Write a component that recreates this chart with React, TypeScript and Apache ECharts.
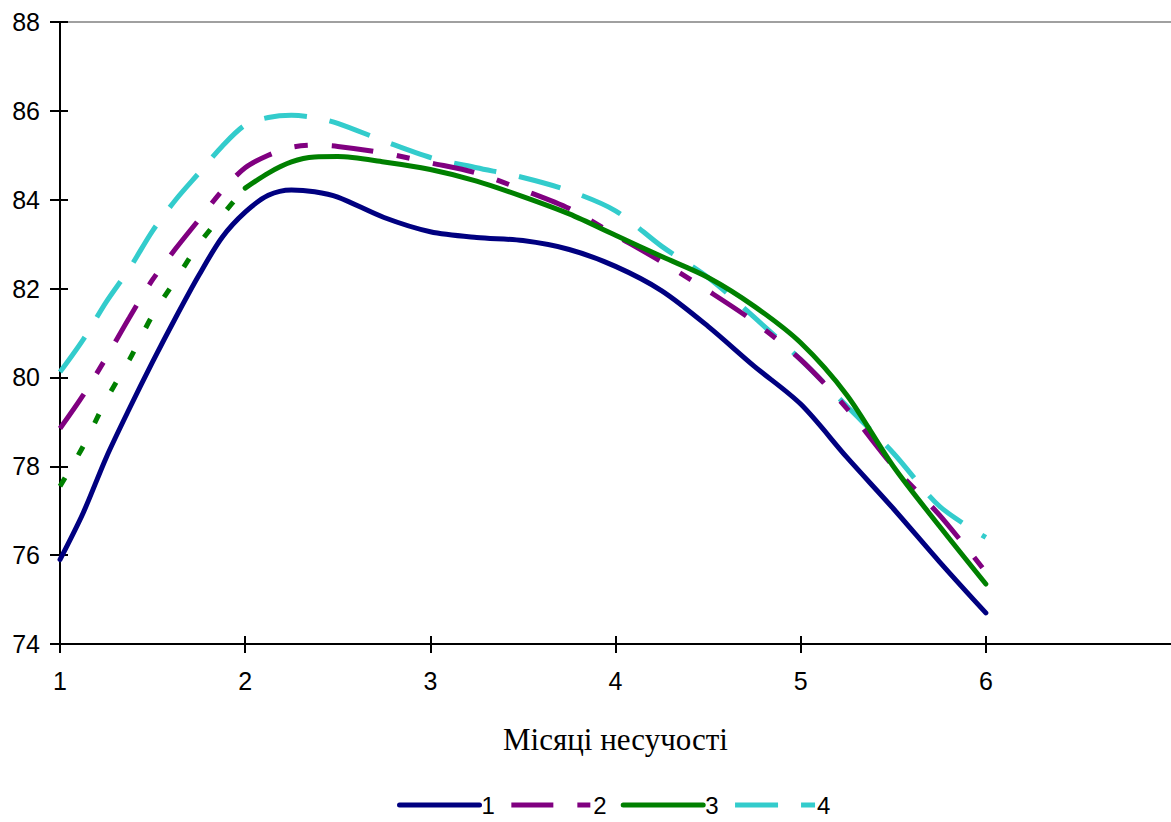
import React, { useEffect, useRef } from "react";
import * as echarts from "echarts";

const xs = [1, 1.125, 1.25, 1.375, 1.5, 1.625, 1.75, 1.875, 2, 2.125, 2.25, 2.375, 2.5, 2.75, 3, 3.25, 3.5, 3.75, 4, 4.25, 4.5, 4.75, 5, 5.25, 5.5, 5.75, 6];

const series1 = [75.9, 76.95, 78.2, 79.3, 80.35, 81.35, 82.3, 83.15, 83.72, 84.1, 84.22, 84.18, 84.06, 83.6, 83.28, 83.15, 83.08, 82.88, 82.5, 81.95, 81.15, 80.25, 79.4, 78.2, 77.05, 75.85, 74.7];
const series2 = [78.85, 79.6, 80.45, 81.35, 82.2, 82.9, 83.55, 84.2, 84.72, 85.0, 85.18, 85.23, 85.2, 85.05, 84.83, 84.6, 84.22, 83.8, 83.2, 82.6, 81.95, 81.25, 80.4, 79.3, 78.0, 76.9, 75.62];
const series3 = [77.55, 78.45, 79.5, 80.4, 81.4, 82.2, 83.0, 83.65, 84.26, 84.6, 84.85, 84.96, 84.97, 84.85, 84.68, 84.42, 84.07, 83.68, 83.2, 82.72, 82.25, 81.6, 80.78, 79.6, 78.0, 76.65, 75.35];
const series4 = [80.12, 80.85, 81.7, 82.45, 83.3, 84.0, 84.6, 85.2, 85.68, 85.85, 85.9, 85.85, 85.72, 85.32, 84.95, 84.72, 84.5, 84.2, 83.75, 82.95, 82.25, 81.35, 80.4, 79.35, 78.3, 77.1, 76.4];

const seriesNames = ["1", "2", "3", "4"];
const xTickValues = [1, 2, 3, 4, 5, 6];
const xAxisTitle = "Місяці несучості";

const pairs = (ys: number[]) => xs.map((x, i) => [x, ys[i]]);
const dottedEnd = xs.indexOf(2);

export default function App() {
  const ref = useRef<HTMLDivElement>(null);
  useEffect(() => {
    document.body.style.margin = "0";
    if (!ref.current) return;
    const chart = echarts.init(ref.current, null, { renderer: "svg" });
    const font = "'Liberation Sans', Arial, sans-serif";
    const p3 = pairs(series3);
    const LW = 5;
    chart.setOption({
      animation: false,
      backgroundColor: "#ffffff",
      grid: { left: 60, right: 0, top: 22, bottom: 178, containLabel: false },
      legend: {
        data: seriesNames,
        top: 793,
        left: 397,
        padding: 0,
        itemWidth: 80,
        itemHeight: 14,
        itemGap: 14,
        itemStyle: { opacity: 0 },
        lineStyle: { width: LW },
        textStyle: { fontFamily: font, fontSize: 24, lineHeight: 24, color: "#000", padding: [0, 0, 0, -3] },
      },
      xAxis: [
        {
          type: "value",
          min: 1,
          max: 7,
          interval: 1,
          position: "bottom",
          axisLine: { show: true, onZero: false, lineStyle: { color: "#000", width: 2 } },
          axisTick: { show: true, inside: false, length: 9, customValues: xTickValues, lineStyle: { color: "#000", width: 2 } },
          axisLabel: {
            margin: 24,
            fontFamily: font,
            fontSize: 25,
            color: "#000",
            customValues: xTickValues,
          },
          splitLine: { show: false },
          name: xAxisTitle,
          nameLocation: "middle",
          nameGap: 80,
          nameTextStyle: { fontFamily: "'Liberation Serif', 'Times New Roman', serif", fontSize: 31, color: "#000" },
        },
        {
          type: "value",
          min: 1,
          max: 7,
          interval: 1,
          position: "bottom",
          axisLine: { show: false, onZero: false },
          axisTick: { show: true, inside: true, length: 8, customValues: xTickValues, lineStyle: { color: "#000", width: 2 } },
          axisLabel: { show: false },
          splitLine: { show: false },
        },
        {
          type: "value",
          min: 1,
          max: 7,
          interval: 1,
          position: "top",
          axisLine: { show: true, onZero: false, lineStyle: { color: "#a0a0a0", width: 2 } },
          axisTick: { show: false },
          axisLabel: { show: false },
          splitLine: { show: false },
        },
      ],
      yAxis: [
        {
          type: "value",
          min: 74,
          max: 88,
          interval: 2,
          position: "left",
          axisLine: { show: true, onZero: false, lineStyle: { color: "#000", width: 2 } },
          axisTick: { show: true, inside: false, length: 10, lineStyle: { color: "#000", width: 2 } },
          axisLabel: { margin: 20, fontFamily: font, fontSize: 25, color: "#000" },
          splitLine: { show: false },
        },
        {
          type: "value",
          min: 74,
          max: 88,
          interval: 2,
          position: "left",
          axisLine: { show: false, onZero: false },
          axisTick: { show: true, inside: true, length: 8, lineStyle: { color: "#000", width: 2 } },
          axisLabel: { show: false },
          splitLine: { show: false },
        },
      ],
      series: [
        {
          name: "1",
          type: "line",
          data: pairs(series1),
          smooth: 0.3,
          symbol: "none",
          lineStyle: { color: "#000080", width: LW, cap: "round", join: "round" },
          itemStyle: { color: "#000080" },
          z: 5,
        },
        {
          name: "2",
          type: "line",
          data: pairs(series2),
          smooth: 0.3,
          symbol: "none",
          lineStyle: { color: "#800080", width: LW, type: [42, 24, 13, 24], cap: "butt" },
          itemStyle: { color: "#800080" },
          z: 3,
        },
        {
          name: "3",
          type: "line",
          data: p3.slice(dottedEnd),
          smooth: 0.3,
          symbol: "none",
          lineStyle: { color: "#008000", width: LW, cap: "round", join: "round" },
          itemStyle: { color: "#008000" },
          z: 4,
        },
        {
          name: "3-dotted",
          type: "line",
          data: p3.slice(0, dottedEnd + 1),
          smooth: 0.3,
          symbol: "none",
          lineStyle: { color: "#008000", width: LW, type: [10, 26], cap: "butt" },
          itemStyle: { color: "#008000" },
          z: 4,
        },
        {
          name: "4",
          type: "line",
          data: pairs(series4),
          smooth: 0.3,
          symbol: "none",
          lineStyle: { color: "#33CCCC", width: LW, type: [43, 23], cap: "butt" },
          itemStyle: { color: "#33CCCC" },
          z: 2,
        },
      ],
    });
    return () => chart.dispose();
  }, []);
  return <div ref={ref} style={{ width: 1171, height: 822 }} />;
}
